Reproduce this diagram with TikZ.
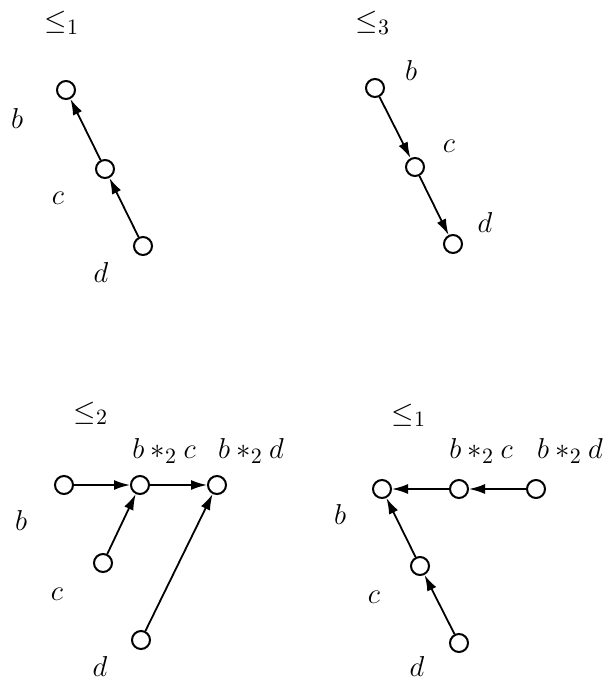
\documentclass[tikz,border=0pt]{standalone}
\usepackage{amsmath,amssymb}
\usetikzlibrary{arrows.meta}
\begin{document}
\begin{tikzpicture}[x=0.5pt,y=-0.5pt,
 vtx/.style={circle,draw,line width=1pt,inner sep=0pt,minimum size=9pt},
 arr/.style={-{Latex[length=8pt,width=5pt]},line width=0.9pt},
 lab/.style={font=\fontsize{15.5}{18}\selectfont,inner sep=0pt}]
 \useasboundingbox (0,0) rectangle (608,680);
 \node[lab] (o1) at (62,23) {$\leq_1$};
 \node[vtx] (b1) at (66,90) {};
 \node[vtx] (c1) at (105,169) {};
 \node[vtx] (d1) at (143,246) {};
 \node[lab] (lb1) at (17,118) {$b$};
 \node[lab] (lc1) at (58,198) {$c$};
 \node[lab] (ld1) at (101,272) {$d$};
 \draw[arr] (c1) -- (b1);
 \draw[arr] (d1) -- (c1);
 \node[lab] (o2) at (373,23) {$\leq_3$};
 \node[vtx] (b2) at (375,88) {};
 \node[vtx] (c2) at (415,167) {};
 \node[vtx] (d2) at (453,244) {};
 \node[lab] (lb2) at (411,70) {$b$};
 \node[lab] (lc2) at (449,146) {$c$};
 \node[lab] (ld2) at (485,222) {$d$};
 \draw[arr] (b2) -- (c2);
 \draw[arr] (c2) -- (d2);
 \node[lab] (o3) at (91,413) {$\leq_2$};
 \node[lab] (lbc3) at (164,451) {$b *_2 c$};
 \node[lab] (lbd3) at (251,451) {$b *_2 d$};
 \node[vtx] (b3) at (64,485) {};
 \node[vtx] (bc3) at (140,485) {};
 \node[vtx] (bd3) at (217,485) {};
 \node[vtx] (c3) at (103,563) {};
 \node[vtx] (d3) at (141,640) {};
 \node[lab] (lb3) at (21,520) {$b$};
 \node[lab] (lc3) at (57,594) {$c$};
 \node[lab] (ld3) at (100,666) {$d$};
 \draw[arr] (b3) -- (bc3);
 \draw[arr] (bc3) -- (bd3);
 \draw[arr] (c3) -- (bc3);
 \draw[arr] (d3) -- (bd3);
 \node[lab] (o4) at (409,415) {$\leq_1$};
 \node[lab] (lbc4) at (481,451) {$b *_2 c$};
 \node[lab] (lbd4) at (570,451) {$b *_2 d$};
 \node[vtx] (b4) at (382,489) {};
 \node[vtx] (bc4) at (459,489) {};
 \node[vtx] (bd4) at (536,489) {};
 \node[vtx] (c4) at (420,566) {};
 \node[vtx] (d4) at (459,643) {};
 \node[lab] (lb4) at (340,514) {$b$};
 \node[lab] (lc4) at (374,597) {$c$};
 \node[lab] (ld4) at (417,666) {$d$};
 \draw[arr] (bc4) -- (b4);
 \draw[arr] (bd4) -- (bc4);
 \draw[arr] (c4) -- (b4);
 \draw[arr] (d4) -- (c4);
\end{tikzpicture}
\end{document}
